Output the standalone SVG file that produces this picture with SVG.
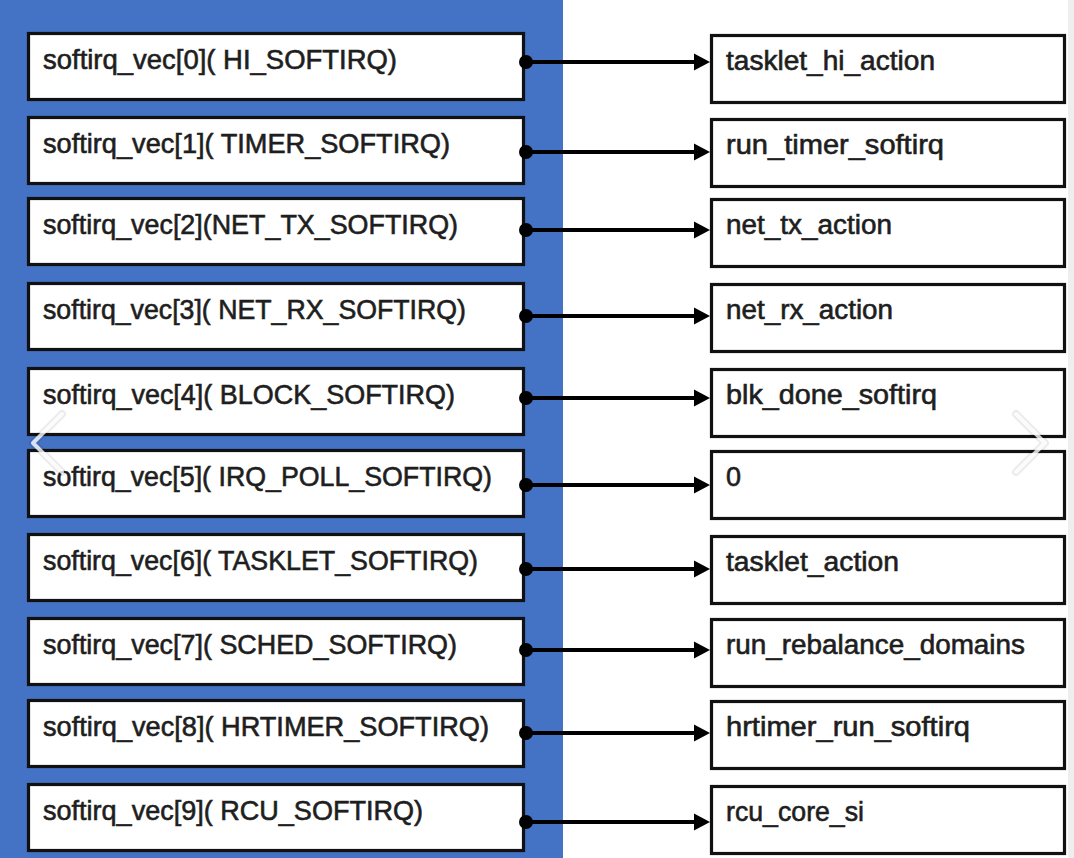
<svg xmlns="http://www.w3.org/2000/svg" width="1074" height="858" viewBox="0 0 1074 858">
<style>
.bx{fill:#ffffff;stroke:#111111;stroke-width:3.2}
.t{font-family:"Liberation Sans",Arial,sans-serif;font-size:27px;fill:#1e1e1e;stroke:#1e1e1e;stroke-width:0.6}
.cn{stroke:#000000;stroke-width:4;fill:none;marker-start:url(#dot);marker-end:url(#arr)}
.chev{fill:none;stroke:#ffffff;stroke-opacity:0.8;stroke-width:4;stroke-linecap:round;stroke-linejoin:round}
.chs{fill:none;stroke:#000000;stroke-opacity:0.08;stroke-width:8;stroke-linecap:round;stroke-linejoin:round}
</style>
<defs>
<marker id="dot" markerUnits="userSpaceOnUse" markerWidth="20" markerHeight="20" refX="10" refY="10" orient="auto">
<circle cx="10" cy="10" r="7" fill="#000000"/>
</marker>
<marker id="arr" markerUnits="userSpaceOnUse" markerWidth="20" markerHeight="20" refX="1" refY="10" orient="auto">
<path d="M0,1.5 L16,10 L0,18.5 Z" fill="#000000"/>
</marker>
</defs>
<rect x="0" y="0" width="1074" height="858" fill="#ffffff"/>
<rect x="0" y="0" width="563" height="858" fill="#4472c4"/>
<rect x="1068" y="0" width="6" height="858" fill="#eeeeee"/>

<g id="vec0"><rect class="bx" x="28.5" y="33.5" width="495" height="66"/><text class="t" x="43" y="69" textLength="354" lengthAdjust="spacingAndGlyphs">softirq_vec[0]( HI_SOFTIRQ)</text></g>
<g id="vec1"><rect class="bx" x="28.5" y="117.5" width="495" height="66"/><text class="t" x="43" y="153" textLength="407" lengthAdjust="spacingAndGlyphs">softirq_vec[1]( TIMER_SOFTIRQ)</text></g>
<g id="vec2"><rect class="bx" x="28.5" y="198.5" width="495" height="66"/><text class="t" x="43" y="234" textLength="415" lengthAdjust="spacingAndGlyphs">softirq_vec[2](NET_TX_SOFTIRQ)</text></g>
<g id="vec3"><rect class="bx" x="28.5" y="283.5" width="495" height="66"/><text class="t" x="43" y="319" textLength="423" lengthAdjust="spacingAndGlyphs">softirq_vec[3]( NET_RX_SOFTIRQ)</text></g>
<g id="vec4"><rect class="bx" x="28.5" y="368.5" width="495" height="66"/><text class="t" x="43" y="404" textLength="412" lengthAdjust="spacingAndGlyphs">softirq_vec[4]( BLOCK_SOFTIRQ)</text></g>
<g id="vec5"><rect class="bx" x="28.5" y="450.5" width="495" height="66"/><text class="t" x="43" y="486" textLength="449" lengthAdjust="spacingAndGlyphs">softirq_vec[5]( IRQ_POLL_SOFTIRQ)</text></g>
<g id="vec6"><rect class="bx" x="28.5" y="534.5" width="495" height="66"/><text class="t" x="43" y="570" textLength="435" lengthAdjust="spacingAndGlyphs">softirq_vec[6]( TASKLET_SOFTIRQ)</text></g>
<g id="vec7"><rect class="bx" x="28.5" y="618.5" width="495" height="66"/><text class="t" x="43" y="654" textLength="414" lengthAdjust="spacingAndGlyphs">softirq_vec[7]( SCHED_SOFTIRQ)</text></g>
<g id="vec8"><rect class="bx" x="28.5" y="700.5" width="495" height="66"/><text class="t" x="43" y="736" textLength="446" lengthAdjust="spacingAndGlyphs">softirq_vec[8]( HRTIMER_SOFTIRQ)</text></g>
<g id="vec9"><rect class="bx" x="28.5" y="784.5" width="495" height="66"/><text class="t" x="43" y="820" textLength="380" lengthAdjust="spacingAndGlyphs">softirq_vec[9]( RCU_SOFTIRQ)</text></g>

<g id="act0"><rect class="bx" x="711.5" y="35.5" width="353" height="67"/><text class="t" x="726" y="70" textLength="209" lengthAdjust="spacingAndGlyphs">tasklet_hi_action</text></g>
<g id="act1"><rect class="bx" x="711.5" y="119.5" width="353" height="67"/><text class="t" x="726" y="154" textLength="218" lengthAdjust="spacingAndGlyphs">run_timer_softirq</text></g>
<g id="act2"><rect class="bx" x="711.5" y="199.5" width="353" height="67"/><text class="t" x="726" y="234" textLength="166" lengthAdjust="spacingAndGlyphs">net_tx_action</text></g>
<g id="act3"><rect class="bx" x="711.5" y="284.5" width="353" height="67"/><text class="t" x="726" y="319" textLength="167" lengthAdjust="spacingAndGlyphs">net_rx_action</text></g>
<g id="act4"><rect class="bx" x="711.5" y="369.5" width="353" height="67"/><text class="t" x="726" y="404" textLength="211" lengthAdjust="spacingAndGlyphs">blk_done_softirq</text></g>
<g id="act5"><rect class="bx" x="711.5" y="451.5" width="353" height="67"/><text class="t" x="726" y="486">0</text></g>
<g id="act6"><rect class="bx" x="711.5" y="536.5" width="353" height="67"/><text class="t" x="726" y="571" textLength="173" lengthAdjust="spacingAndGlyphs">tasklet_action</text></g>
<g id="act7"><rect class="bx" x="711.5" y="619.5" width="353" height="67"/><text class="t" x="726" y="654" textLength="299" lengthAdjust="spacingAndGlyphs">run_rebalance_domains</text></g>
<g id="act8"><rect class="bx" x="711.5" y="701.5" width="353" height="67"/><text class="t" x="726" y="736" textLength="244" lengthAdjust="spacingAndGlyphs">hrtimer_run_softirq</text></g>
<g id="act9"><rect class="bx" x="711.5" y="786.5" width="353" height="67"/><text class="t" x="726" y="821" textLength="138" lengthAdjust="spacingAndGlyphs">rcu_core_si</text></g>

<g id="connectors">
<path class="cn" d="M526,62 H695"/>
<path class="cn" d="M526,152 H695"/>
<path class="cn" d="M526,230 H695"/>
<path class="cn" d="M526,316 H695"/>
<path class="cn" d="M526,398 H695"/>
<path class="cn" d="M526,485 H695"/>
<path class="cn" d="M526,569 H695"/>
<path class="cn" d="M526,650 H695"/>
<path class="cn" d="M526,733 H695"/>
<path class="cn" d="M526,822 H695"/>
</g>

<polyline class="chs" points="62,414 33,443 62,472"/>
<polyline class="chev" points="62,414 33,443 62,472"/>
<polyline class="chs" points="1016,414 1045,443 1016,472"/>
<polyline class="chev" points="1016,414 1045,443 1016,472"/>
</svg>
